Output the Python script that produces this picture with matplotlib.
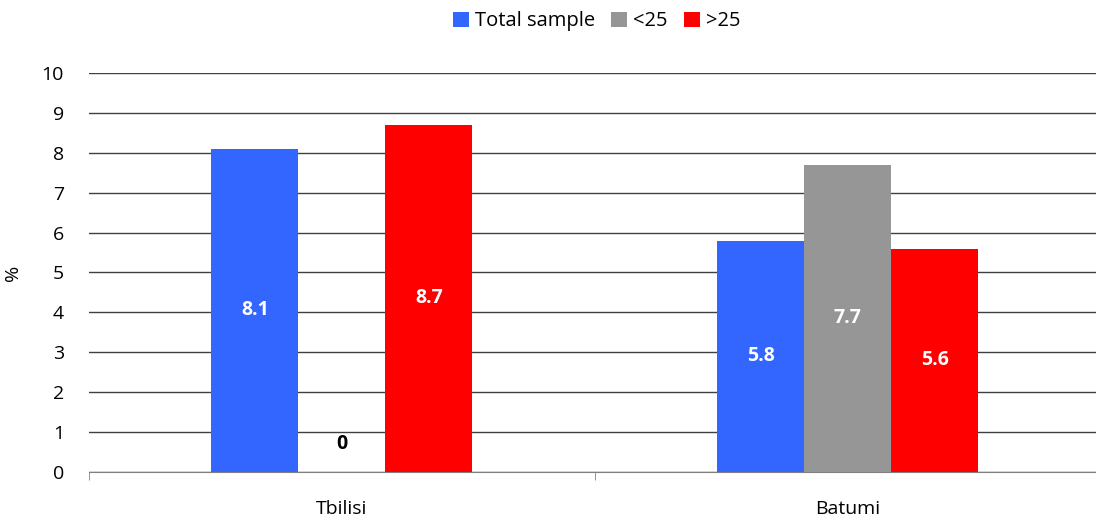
import matplotlib

matplotlib.use("Agg")
import matplotlib.pyplot as plt
import numpy as np

plt.rcParams["font.family"] = ["Open Sans", "DejaVu Sans"]

cities = ["Tbilisi", "Batumi"]
series = ["Total sample", "<25", ">25"]
total_sample = [8.1, 5.8]
under_25 = [0, 7.7]
over_25 = [8.7, 5.6]
colors = ["#3366FF", "#969696", "#FF0000"]

fig = plt.figure(figsize=(10.96, 5.23), dpi=100)
ax = fig.add_axes([0.0812, 0.0975, 0.923, 0.763])

x = np.arange(len(cities))
width = 0.172
values = [total_sample, under_25, over_25]
for k, (name, vals, col) in enumerate(zip(series, values, colors)):
    pos = x + (k - 1) * width
    ax.bar(pos, vals, width, color=col, label=name, zorder=3)
    for px, v in zip(pos, vals):
        if v > 0:
            ax.text(px, v / 2, f"{v:g}", ha="center", va="center",
                    color="white", fontsize=14, fontweight="bold", zorder=4)
        else:
            ax.text(px, 0.7, f"{v:g}", ha="center", va="center",
                    color="black", fontsize=14, fontweight="bold", zorder=4)

ax.set_xlim(-0.5, 1.5)
ax.set_ylim(0, 10)
ax.set_yticks(range(0, 11))
ax.grid(axis="y", color="#404040", linewidth=1, zorder=0)
ax.set_axisbelow(True)

ax.set_xticks(x)
ax.set_xticklabels(cities, fontsize=14)
ax.tick_params(axis="x", length=0, pad=20)
# category boundary ticks under the axis
ax.set_xticks([-0.5, 0.5, 1.5], minor=True)
ax.tick_params(axis="x", which="minor", length=6, color="#808080")
ax.tick_params(axis="y", length=0, labelsize=14, pad=18)

for s in ["top", "right", "left"]:
    ax.spines[s].set_visible(False)
ax.spines["bottom"].set_color("#808080")

ax.set_ylabel("%", fontsize=14, labelpad=14)

ax.legend(loc="upper center", bbox_to_anchor=(0.502, 1.2), ncol=3, frameon=False,
          fontsize=14.5, handlelength=0.8, handleheight=0.8, handletextpad=0.3,
          columnspacing=0.8)

fig.savefig("out.png", dpi=100)
